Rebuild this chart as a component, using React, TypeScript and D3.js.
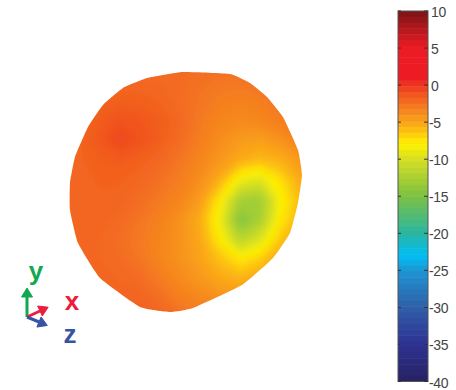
import React from 'react';
import * as d3 from 'd3';

// colour bar, dB
const tickValues = [10, 5, 0, -5, -10, -15, -20, -25, -30, -35, -40];
const colorStops = [10, 5, 1, -1, -3, -5.5, -8, -10, -15, -20, -23, -25, -30, -35, -40];
const colorValues = ['#7a1416', '#ed1c24', '#ed1c24', '#f0501f', '#f47b20', '#fbae17', '#fff200', '#d7df23', '#7cc142', '#2bb5a0', '#00bff3', '#1c96d4', '#2f5fa8', '#2e3192', '#262262'];
const bandCount = 64;

// field: rows top to bottom, every 20px of the projection
const fieldXs = d3.range(14);
const field = [
  [-2.2, -2.2, -2.2, -2.2, -2.2, -2.2, -2.2, -2.2, -2.2, -2.2, -2.2, -2.2, -2.2, -2.2],
  [-2, -2, -2, -2, -2, -2, -2.2, -2.4, -2.6, -2.6, -2.4, -2.4, -2.4, -2.4],
  [-2, -2, -1.8, -1.6, -1.6, -1.8, -2.2, -2.6, -3, -3.2, -3, -2.6, -2.4, -2.4],
  [-2, -1.8, -1.4, -1, -1.2, -1.5, -2, -2.8, -3.4, -3.6, -3.4, -3, -2.6, -2.6],
  [-2, -1.8, -1.2, -0.5, -1, -1.5, -2.2, -3, -3.8, -4.4, -4.6, -4, -3.2, -3],
  [-2, -1.8, -1.5, -1.4, -1.6, -2, -2.6, -3.4, -4.2, -5.2, -5.8, -5.4, -4.4, -3.8],
  [-2, -1.9, -1.7, -1.7, -2, -2.4, -3, -3.8, -5.4, -8.6, -9.5, -7.2, -5.2, -4.4],
  [-2, -2, -1.8, -1.9, -2.2, -2.8, -3.4, -4.4, -7.6, -12.5, -13, -8.2, -5.8, -4.8],
  [-2, -2, -1.9, -2.1, -2.6, -3.2, -4, -5.2, -8.6, -14.5, -12.5, -7.6, -5.6, -4.6],
  [-2, -2, -2, -2.3, -2.8, -3.4, -4, -5, -7.6, -11.5, -9.5, -6.2, -4.8, -4.2],
  [-2, -2, -2, -2.2, -2.6, -3.4, -4, -4.8, -6, -7.4, -6.4, -5, -4.2, -4],
  [-2, -2, -2, -2, -2.2, -2.8, -3.6, -4.2, -5, -5.4, -4.8, -4.2, -4, -4],
  [-2, -2, -1.9, -1.7, -1.8, -2.2, -3, -3.4, -3.8, -4, -3.8, -3.6, -3.6, -3.6],
  [-2, -2, -1.7, -1.5, -1.5, -1.8, -2.2, -2.6, -2.8, -3, -3, -3, -3, -3],
];

// silhouette of the surface in projected units, centre of the blob at 0,0
const outlineX = [-3, 44, 64, 81, 97, 112, 116, 112, 104, 87, 56, 7, -16, -46, -86, -108, -116, -116, -111, -98, -83, -63, -39];
const outlineY = [120, 118, 109, 95, 75, 42, 17, -11, -41, -66, -93, -116, -120, -115, -86, -51, -18, 9, 35, 65, 87, 104, 114];

// orientation triad: shaft ends and label offsets from the origin
const triadAxes = [
  { name: 'y', dx: 0, dy: 20, color: '#12a84f', labelDx: 9, labelDy: 37 },
  { name: 'x', dx: 13, dy: 6, color: '#ed1c3a', labelDx: 45, labelDy: 7 },
  { name: 'z', dx: 12, dy: -5, color: '#3953a4', labelDx: 43, labelDy: -26 },
];

const width = 456;
const height = 390;

export default function App() {
  const color = d3.scaleLinear<string>().domain(colorStops).range(colorValues);

  const barY = d3.scaleLinear().domain([10, -40]).range([11, 381.5]);
  const barLeft = 398;
  const barRight = 428;
  const bands = d3.range(bandCount).map((i) => {
    const hi = 10 - (i * 50) / bandCount;
    const lo = 10 - ((i + 1) * 50) / bandCount;
    return { hi, lo, mid: (hi + lo) / 2 };
  });

  const projX = d3.scaleLinear().domain([-100, 100]).range([86, 286]);
  const projY = d3.scaleLinear().domain([-100, 100]).range([292, 92]);

  const outline = d3
    .line<number>()
    .x((d) => projX(outlineX[d]))
    .y((d) => projY(outlineY[d]))
    .curve(d3.curveCardinalClosed.tension(0.6))(d3.range(outlineX.length));

  // contour the field on the pixel positions of the grid
  const gridX = d3.scaleLinear().domain([0.5, fieldXs.length - 0.5]).range([60, 320]);
  const gridY = d3.scaleLinear().domain([0.5, field.length - 0.5]).range([60, 320]);
  const thresholds = d3.range(-16, 0, 0.25);
  const contours = d3
    .contours()
    .size([fieldXs.length, field.length])
    .thresholds(thresholds)(field.flat());
  const path = d3.geoPath(
    d3.geoTransform({
      point(x, y) {
        this.stream.point(gridX(x), gridY(y));
      },
    })
  );

  const origin = { x: 27, y: 317 };
  const triadX = d3.scaleLinear().domain([0, 1]).range([origin.x, origin.x + 1]);
  const triadY = d3.scaleLinear().domain([0, 1]).range([origin.y, origin.y - 1]);

  return (
    <svg
      width={width}
      height={height}
      style={{ position: 'absolute', left: 0, top: 0, background: '#fff' }}
      fontFamily="'Liberation Sans', Arial, sans-serif"
    >
      <defs>
        <clipPath id="blob">
          <path d={outline ?? ''} />
        </clipPath>
        <filter id="soft" x="-5%" y="-5%" width="110%" height="110%">
          <feGaussianBlur stdDeviation="3.5" />
        </filter>
      </defs>

      <g clipPath="url(#blob)">
        <g filter="url(#soft)">
          <rect x={40} y={40} width={300} height={300} fill={color(-16)} />
          {contours.map((c, i) => (
            <path key={i} d={path(c as any) ?? ''} fill={color(c.value)} />
          ))}
        </g>
      </g>

      {/* colour bar */}
      {bands.map((b, i) => (
        <rect
          key={i}
          x={barLeft}
          y={barY(b.hi)}
          width={barRight - barLeft}
          height={barY(b.lo) - barY(b.hi) + 0.5}
          fill={color(b.mid)}
        />
      ))}
      <rect x={barLeft} y={barY(10)} width={barRight - barLeft} height={barY(-40) - barY(10)} fill="none" stroke="#555" strokeWidth={1} />
      {tickValues.map((t) => (
        <g key={t}>
          <line x1={barLeft} x2={barLeft + 3} y1={barY(t)} y2={barY(t)} stroke="#333" />
          <line x1={barRight - 4} x2={barRight} y1={barY(t)} y2={barY(t)} stroke="#333" />
          <text x={t < 0 ? 429 : 431} y={barY(t) + 6} fontSize={14} letterSpacing={-0.4} fill="#444">
            {t}
          </text>
        </g>
      ))}

      {/* orientation triad */}
      {triadAxes.map((a) => {
        const x2 = triadX(a.dx);
        const y2 = triadY(a.dy);
        const ang = Math.atan2(y2 - origin.y, x2 - origin.x);
        return (
          <g key={a.name}>
            <line x1={origin.x} y1={origin.y} x2={x2} y2={y2} stroke={a.color} strokeWidth={3} />
            <polygon
              points={`${x2 + 9 * Math.cos(ang)},${y2 + 9 * Math.sin(ang)} ${x2 - 5.5 * Math.sin(ang)},${y2 + 5.5 * Math.cos(ang)} ${x2 + 5.5 * Math.sin(ang)},${y2 - 5.5 * Math.cos(ang)}`}
              fill={a.color}
              stroke={a.color}
              strokeLinejoin="round"
            />
            <text
              x={triadX(a.labelDx)}
              y={triadY(a.labelDy)}
              fontSize={26}
              fontWeight="bold"
              textAnchor="middle"
              fill={a.color}
            >
              {a.name}
            </text>
          </g>
        );
      })}
    </svg>
  );
}
